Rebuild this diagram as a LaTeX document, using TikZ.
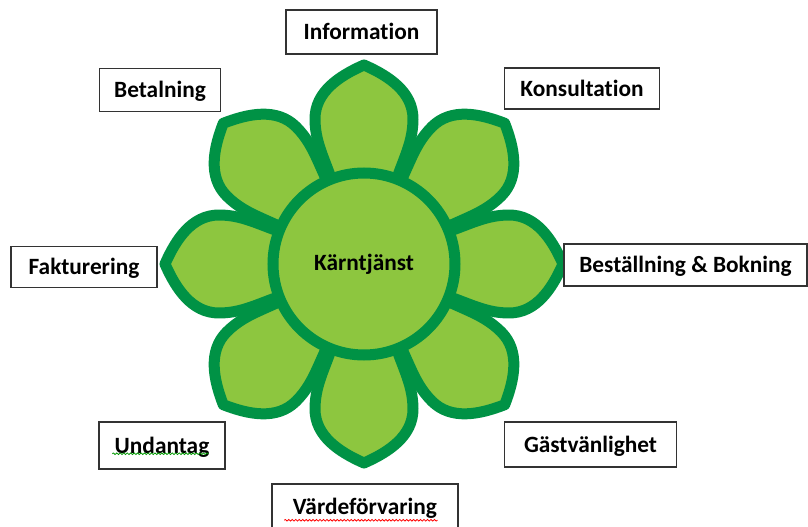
\documentclass[tikz,border=0pt]{standalone}
\usepackage{fontspec}
\setmainfont{Carlito}[Ligatures=NoCommon]
\usetikzlibrary{decorations.pathmorphing}

\definecolor{leaf}{RGB}{141,198,63}
\definecolor{leafline}{RGB}{0,146,69}
\definecolor{boxline}{RGB}{51,51,51}

\tikzset{
  petalline/.style={draw=leafline,fill=leaf,line width=8.25pt,line join=round},
  petal/.pic={
    \draw[petalline] (70,-28) .. controls (100,-36) and (118,-49) .. (145,-49)
      .. controls (172,-49) and (188,-25) .. (199,0)
      .. controls (188,25) and (172,49) .. (145,49)
      .. controls (118,49) and (100,36) .. (70,28) -- cycle;
  },
  core/.style={circle,draw=leafline,fill=leaf,line width=8.25pt,minimum size=136.5pt,inner sep=0pt,
    font=\bfseries\fontsize{17.5}{20}\selectfont},
  textbox/.style={draw=boxline,fill=white,line width=1.1pt,inner sep=0pt,
    font=\bfseries\fontsize{17.5}{20}\selectfont,text height=11.3pt,text depth=0pt},
  squiggle/.style={decorate,decoration={snake,amplitude=0.6pt,segment length=2.6pt},line width=0.6pt}
}

\begin{document}
\begin{tikzpicture}[x=0.75pt,y=0.75pt]
   \useasboundingbox (0,0) rectangle (808,526);
   \clip (0,0) rectangle (808,526);

   % flower: diagonal petals underneath, then the straight ones
   \pic[rotate=45]  at (364,262) {petal};
   \pic[rotate=135] at (364,262) {petal};
   \pic[rotate=225] at (364,262) {petal};
   \pic[rotate=315] at (364,262) {petal};
   \pic[rotate=0]   at (364,262) {petal};
   \pic[rotate=90]  at (364,262) {petal};
   \pic[rotate=180] at (364,262) {petal};
   \pic[rotate=270] at (364,262) {petal};
   \node[core] (core) at (364,262) {Kärntjänst};

   % service boxes
   \node[textbox,minimum width=113.25pt,minimum height=33pt]   (info)     at (361.5,494) {Information};
   \node[textbox,minimum width=116.6pt,minimum height=30.75pt] (konsult)  at (582,437.5) {Konsultation};
   \node[textbox,minimum width=182.25pt,minimum height=31.5pt] (bestall)  at (685.5,261) {Beställning \& Bokning};
   \node[textbox,minimum width=129pt,minimum height=33.75pt]   (gast)     at (590.5,81.5) {Gästvänlighet};
   \node[textbox,minimum width=139.5pt,minimum height=34.5pt]  (varde)    at (365,19) {Värdeförvaring};
   \node[textbox,minimum width=94.5pt,minimum height=35.25pt]  (undantag) at (162,80.5) {Undantag};
   \node[textbox,minimum width=109.5pt,minimum height=31.1pt]  (faktura)  at (84,259) {Fakturering};
   \node[textbox,minimum width=91.1pt,minimum height=32.6pt]   (betal)    at (160,436) {Betalning};

   % spelling marks
   \draw[squiggle,green!60!black] ([shift={(14,16)}]undantag.south west) -- ([shift={(-17,16)}]undantag.south east);
   \draw[squiggle,red] ([shift={(13,-37)}]varde.north west) -- ([shift={(-21,-37)}]varde.north east);
\end{tikzpicture}
\end{document}
